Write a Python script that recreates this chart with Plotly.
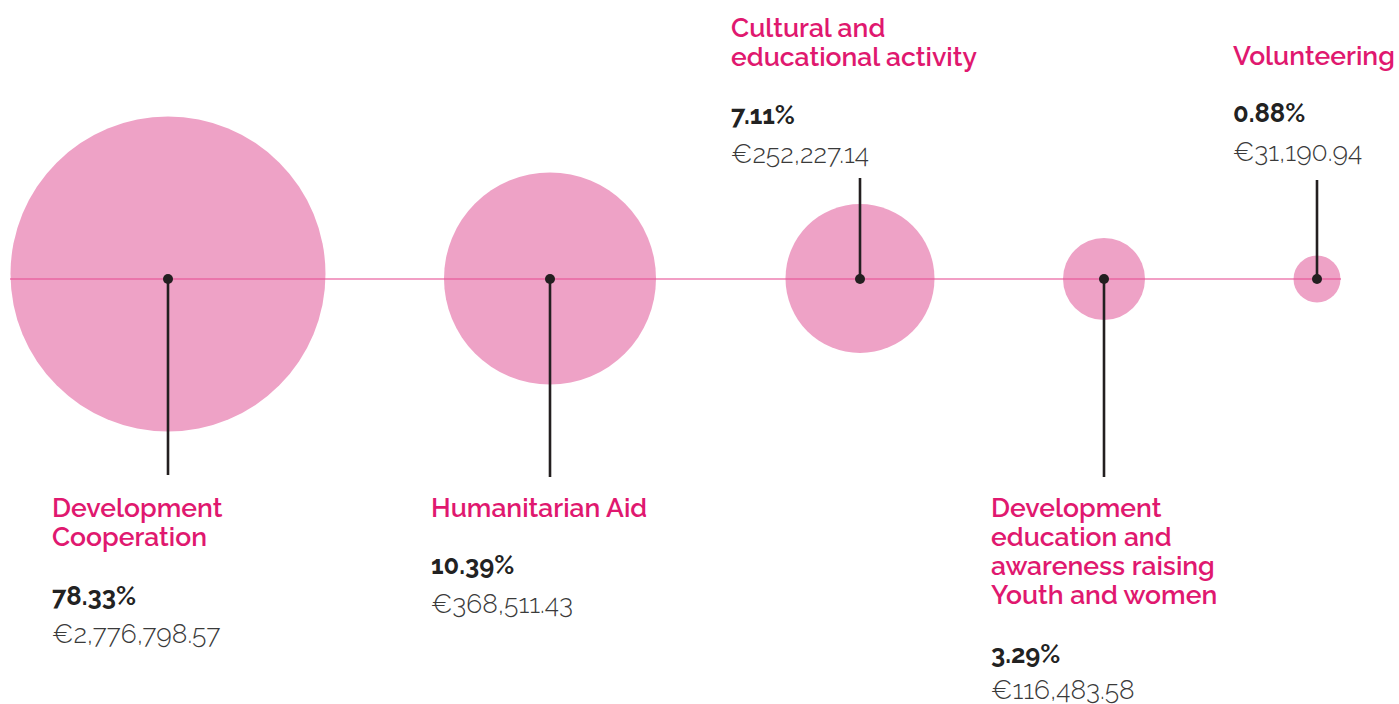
import plotly.graph_objects as go

# ---- data ----
categories = [
    "Development<br>Cooperation",
    "Humanitarian Aid",
    "Cultural and<br>educational activity",
    "Development<br>education and<br>awareness raising<br>Youth and women",
    "Volunteering",
]
percentages = ["78.33%", "10.39%", "7.11%", "3.29%", "0.88%"]
amounts = ["€2,776,798.57", "€368,511.43", "€252,227.14", "€116,483.58", "€31,190.94"]

# ---- layout / style (page pixel coordinates) ----
W, H = 1399, 704
centers_x = [168, 550, 860, 1104, 1317]
centers_y = [274, 278.5, 278.5, 279, 279]
bubble_diameters = [315, 212, 149, 82, 47]
line_y = 279
stem_ends = [475, 477, 178, 477, 180]
label_x = [50, 429, 729, 989, 1231]
title_top = [507, 507, 27, 507, 55]       # center of first title line
pct_y = [596, 565, 115, 654, 113]
amt_y = [633, 603, 153, 689, 151]
title_line_gap = 29.3

PINK = "#EEA2C6"
MAGENTA = "#E0186F"
DARK = "#231F20"
FONT = "Raleway, Lato, 'Open Sans', sans-serif"

fig = go.Figure()

# bubbles
fig.add_trace(go.Scatter(
    x=centers_x, y=centers_y, mode="markers",
    marker=dict(size=bubble_diameters, color=PINK, line=dict(width=0), opacity=1),
    hoverinfo="skip", showlegend=False,
))

# horizontal axis line
fig.add_trace(go.Scatter(
    x=[10, 1341], y=[line_y, line_y], mode="lines",
    line=dict(color="rgba(232,80,150,0.55)", width=2.2),
    hoverinfo="skip", showlegend=False,
))

# stems
for cx, ye in zip(centers_x, stem_ends):
    fig.add_trace(go.Scatter(
        x=[cx, cx], y=[line_y, ye], mode="lines",
        line=dict(color=DARK, width=2.6),
        hoverinfo="skip", showlegend=False,
    ))

# dots
fig.add_trace(go.Scatter(
    x=centers_x, y=[line_y] * len(centers_x), mode="markers",
    marker=dict(size=10, color=DARK, line=dict(width=0)),
    hoverinfo="skip", showlegend=False,
))

annotations = []
for i, cat in enumerate(categories):
    for j, ln in enumerate(cat.split("<br>")):
        annotations.append(dict(
            x=label_x[i], y=title_top[i] + j * title_line_gap, xref="x", yref="y",
            text=ln, showarrow=False, xanchor="left", yanchor="middle",
            font=dict(family=FONT, size=26.5, color=MAGENTA, weight=600),
        ))
    annotations.append(dict(
        x=label_x[i], y=pct_y[i], xref="x", yref="y", text=percentages[i],
        showarrow=False, xanchor="left", yanchor="middle",
        font=dict(family=FONT, size=25.5, color="#222222", weight=700),
    ))
    annotations.append(dict(
        x=label_x[i], y=amt_y[i], xref="x", yref="y", text=amounts[i],
        showarrow=False, xanchor="left", yanchor="middle",
        font=dict(family=FONT, size=26.5, color="#3a3a3a", weight=300),
    ))

fig.update_layout(
    width=W, height=H,
    margin=dict(l=0, r=0, t=0, b=0),
    paper_bgcolor="white", plot_bgcolor="white",
    xaxis=dict(range=[0, W], visible=False, fixedrange=True),
    yaxis=dict(range=[H, 0], visible=False, fixedrange=True),
    annotations=annotations,
    showlegend=False,
)

fig.write_html(
    "out.html",
    config={"displayModeBar": False},
    post_script="document.body.style.margin='0';document.body.style.overflow='hidden';",
)
